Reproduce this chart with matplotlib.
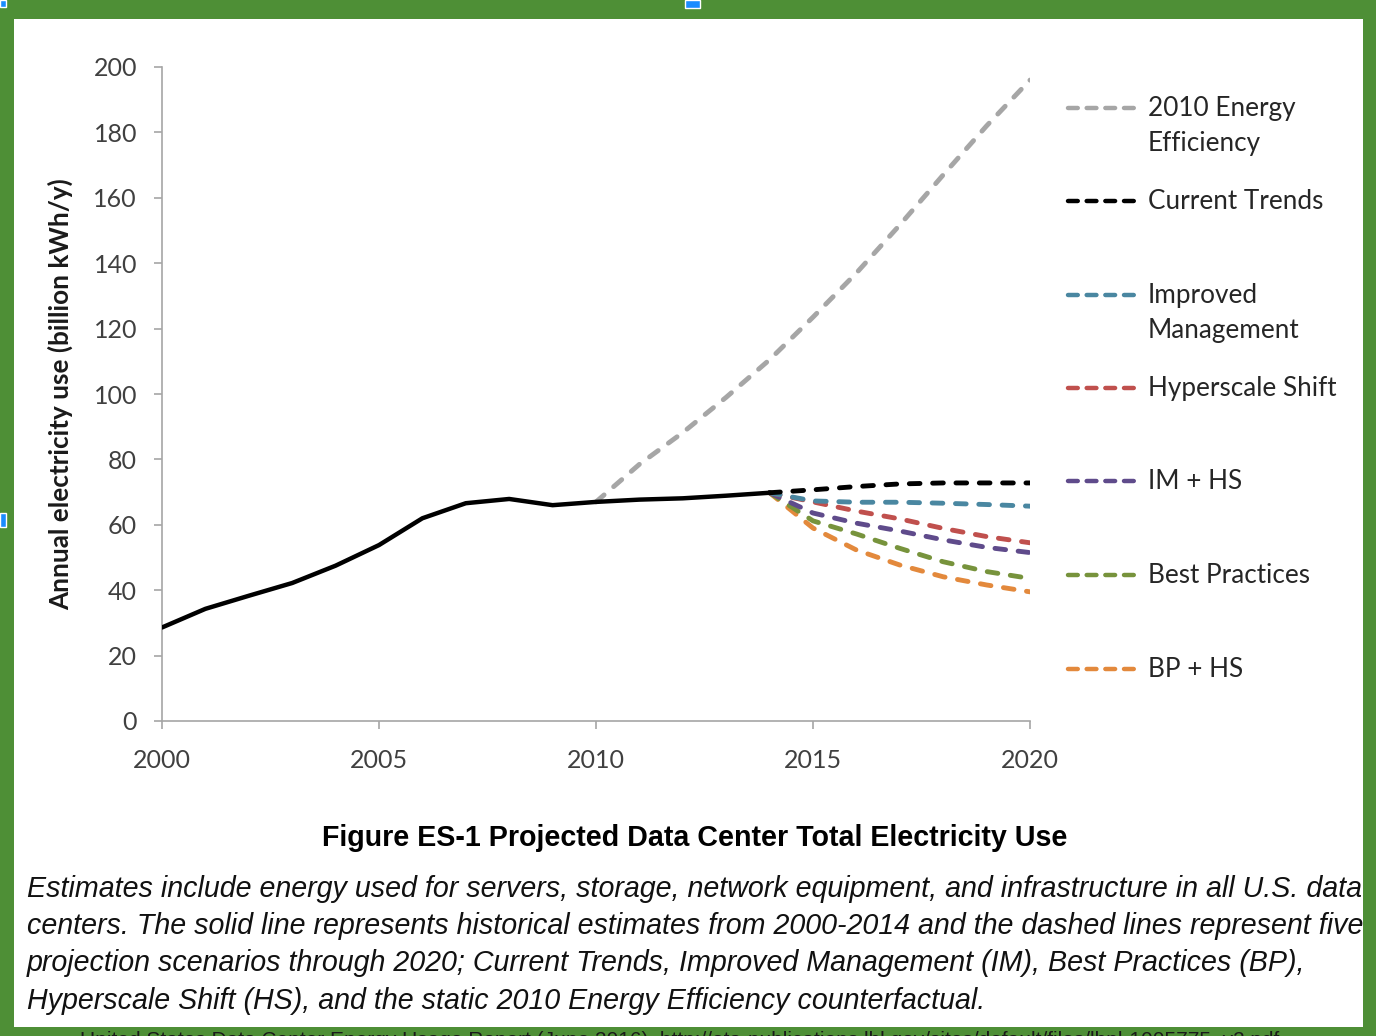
import matplotlib
matplotlib.use('Agg')
import matplotlib.pyplot as plt
from matplotlib.lines import Line2D
from matplotlib.patches import Rectangle

# historical estimates 2000-2014 (billion kWh/y)
hist_years = list(range(2000, 2015))
hist_use = [28.6, 34.3, 38.3, 42.2, 47.5, 53.8, 62.0, 66.6, 67.9, 66.0, 67.0, 67.7, 68.1, 68.9, 69.8]

# static 2010 energy efficiency counterfactual
ee_years = list(range(2010, 2021))
ee_use = [67.0, 78.5, 88.2, 99.0, 110.5, 123.5, 137.0, 151.7, 167.0, 182.0, 196.0]

# projection scenarios 2014-2020
proj_years = list(range(2014, 2021))
current_trends = [69.8, 70.7, 71.7, 72.5, 72.8, 72.8, 72.8]
improved_mgmt = [69.8, 67.3, 66.9, 66.9, 66.6, 66.2, 65.7]
hyperscale = [69.8, 67.0, 64.2, 61.8, 58.9, 56.4, 54.5]
im_hs = [69.8, 63.6, 60.5, 58.1, 55.4, 53.1, 51.5]
best_practices = [69.8, 61.2, 57.2, 52.8, 48.7, 45.7, 43.6]
bp_hs = [69.8, 59.0, 52.3, 47.7, 44.1, 41.6, 39.5]

series_labels = ['2010 Energy\nEfficiency', 'Current Trends', 'Improved\nManagement',
                 'Hyperscale Shift', 'IM + HS', 'Best Practices', 'BP + HS']
series_colors = ['#a6a6a6', '#000000', '#4a87a1', '#c0504d', '#5f4b8b', '#77933c', '#e3893c']

caption_title = 'Figure ES-1 Projected Data Center Total Electricity Use'
caption_lines = [
    'Estimates include energy used for servers, storage, network equipment, and infrastructure in all U.S. data',
    'centers. The solid line represents historical estimates from 2000-2014 and the dashed lines represent five',
    'projection scenarios through 2020; Current Trends, Improved Management (IM), Best Practices (BP),',
    'Hyperscale Shift (HS), and the static 2010 Energy Efficiency counterfactual.',
]

W, H = 1376, 1036


def fx(px):
    return px / W


def fy(py):
    return 1 - py / H


fig = plt.figure(figsize=(W / 100, H / 100), dpi=100, facecolor='#4e8f36')
fig.patches.append(Rectangle((fx(14), fy(1027)), fx(1363) - fx(14), fy(19) - fy(1027),
                             transform=fig.transFigure, facecolor='white', edgecolor='none', zorder=-5))
# little selection handles at the image edges
for hx, hy, hw, hh in [(0, 0, 6, 7), (685, 0, 15, 8), (0, 513, 6, 14)]:
    fig.patches.append(Rectangle((fx(hx), fy(hy + hh)), fx(hw), hh / H, transform=fig.transFigure,
                                 facecolor='#1a8cff', edgecolor='white', lw=1, zorder=5))

ax = fig.add_axes([fx(162), fy(721), fx(1030) - fx(162), fy(67) - fy(721)])
ax.set_facecolor('none')
ax.set_zorder(2)

dash = (2.2, 2.6)
lw = 3.5
ax.plot(ee_years, ee_use, color=series_colors[0], lw=lw, dashes=dash,
        dash_capstyle='round', zorder=2)
proj = [current_trends, improved_mgmt, hyperscale, im_hs, best_practices, bp_hs]
for vals, c in reversed(list(zip(proj, series_colors[1:]))):
    ax.plot(proj_years, vals, color=c, lw=lw, dashes=dash, dash_capstyle='round', zorder=2)
ax.plot(hist_years, hist_use, color='black', lw=3.2, solid_capstyle='round', zorder=3)

ax.set_xlim(2000, 2020)
ax.set_ylim(0, 200)
ax.set_xticks(range(2000, 2021, 5))
ax.set_yticks(range(0, 201, 20))
for s in ['top', 'right']:
    ax.spines[s].set_visible(False)
for s in ['left', 'bottom']:
    ax.spines[s].set_color('#a6a6a6')
    ax.spines[s].set_linewidth(1.2)
ax.tick_params(axis='both', direction='out', length=6, width=1.2, color='#a6a6a6',
               labelsize=18, labelcolor='#404040')
ax.tick_params(axis='y', pad=12)
ax.tick_params(axis='x', pad=14)
for lab in ax.get_xticklabels() + ax.get_yticklabels():
    lab.set_family('Lato')

fig.text(fx(60), fy(394), 'Annual electricity use (billion kWh/y)', rotation=90,
         ha='center', va='center', fontsize=18.8, fontweight='bold', family='Lato', color='#1a1a1a')

# legend drawn by hand, evenly spaced entries
leg_y = [108, 201, 295, 388, 481, 575, 669]
for lab, c, yy in zip(series_labels, series_colors, leg_y):
    fig.add_artist(Line2D([fx(1068), fx(1138)], [fy(yy), fy(yy)], color=c, lw=3.2,
                          dashes=(2.2, 2.0), dash_capstyle='round'))
    fig.text(fx(1148), fy(yy - 12), lab, ha='left', va='top', fontsize=18.8, family='Lato',
             color='#262626', linespacing=1.5)

fig.text(fx(695), fy(838), caption_title, ha='center', va='center', fontsize=20.6,
         fontweight='bold', family='Liberation Sans', color='black')
for i, line in enumerate(caption_lines):
    fig.text(fx(27), fy(889 + i * 37.2), line, ha='left', va='center', fontsize=20.6,
             style='italic', family='Liberation Sans', color='#111111')

fig.text(fx(80), fy(1031), 'United States Data Center Energy Usage Report (June 2016), http://eta-publications.lbl.gov/sites/default/files/lbnl-1005775_v2.pdf',
         ha='left', va='top', fontsize=15, family='Liberation Sans', color='#1a1a1a')

fig.savefig('out.png', dpi=100, facecolor=fig.get_facecolor())
